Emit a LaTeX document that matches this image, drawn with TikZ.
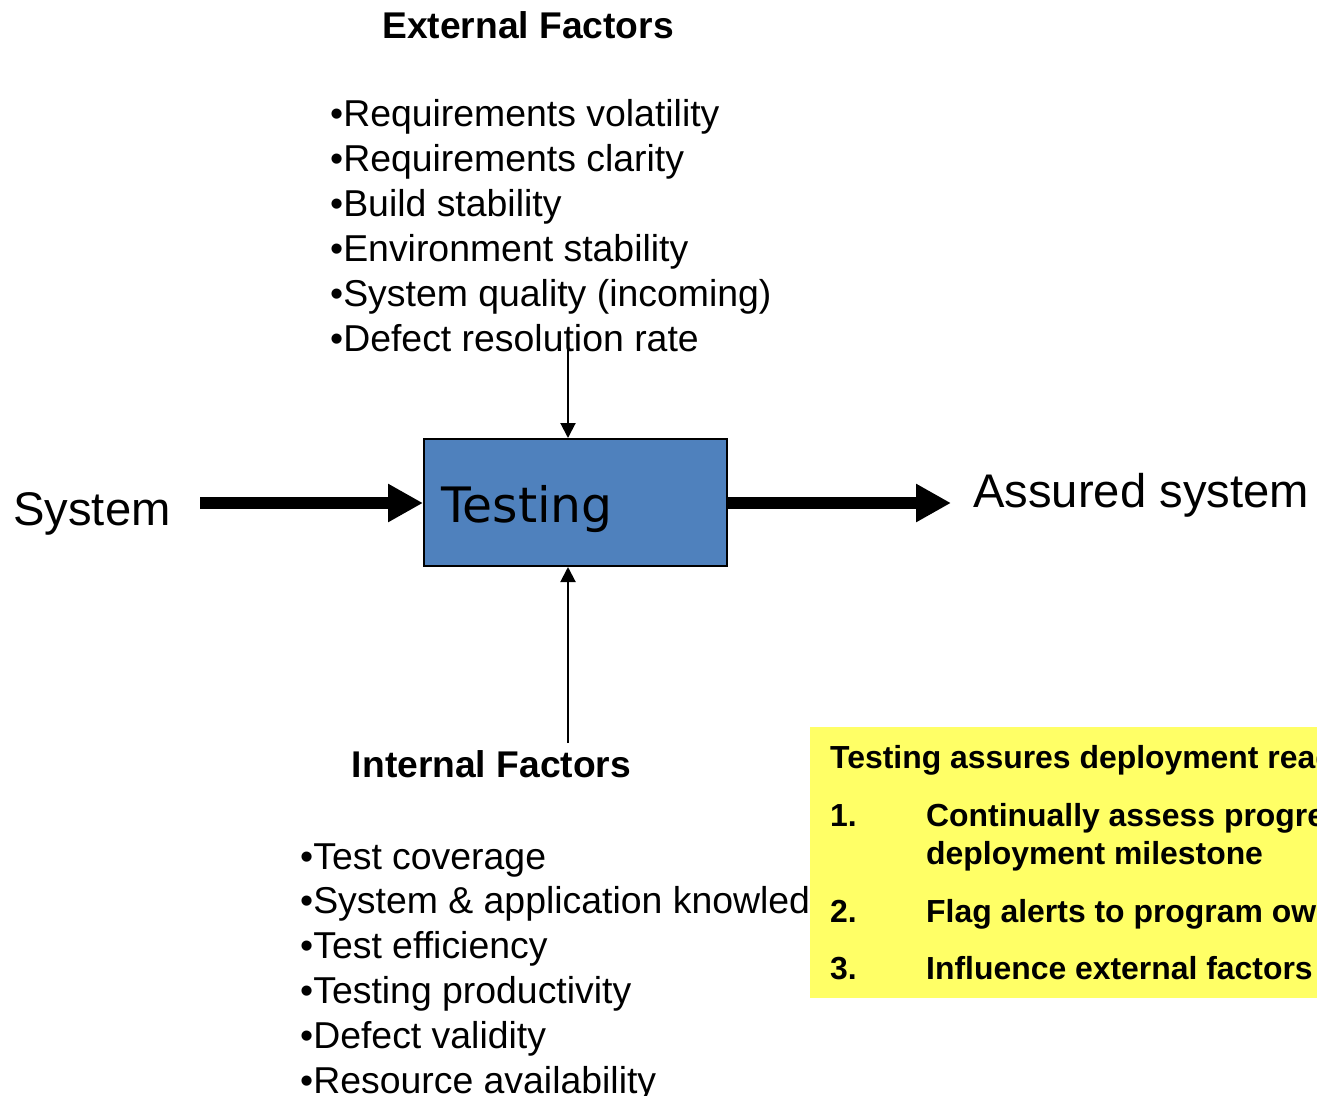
\documentclass[tikz,border=0pt]{standalone}
\usepackage{fontspec}
\setmainfont{Liberation Sans}
\newfontfamily\dejavu{DejaVu Sans}
\usetikzlibrary{arrows.meta}
\definecolor{boxblue}{HTML}{4F81BD}
\definecolor{noteyellow}{HTML}{FFFF66}
\tikzset{
  txt/.style={inner sep=0pt, anchor=base west, font=\fontsize{37.4}{45}\selectfont},
  head/.style={inner sep=0pt, anchor=base, font=\fontsize{37.2}{40}\selectfont\bfseries},
  ylw/.style={inner sep=0pt, anchor=base west, font=\fontsize{31.9}{38}\selectfont\bfseries},
  big/.style={inner sep=0pt, anchor=base west, font=\fontsize{47.2}{50}\selectfont},
  fatarrow/.style={line width=11.7pt, -{Triangle[length=35pt,width=36pt]}},
  thinarrow/.style={line width=2pt, -{Triangle[length=15pt,width=15pt]}},
}
\begin{document}
\begin{tikzpicture}[x=1pt,y=-1pt]
\useasboundingbox (0,0) rectangle (1317,1095);
\clip (0,0) rectangle (1317,1095);

% External factors
\node[head] (exthead) at (528,38) {External Factors};
\node[txt] (e1) at (330,126) {•Requirements volatility};
\node[txt] (e2) at (330,171) {•Requirements clarity};
\node[txt] (e3) at (330,216) {•Build stability};
\node[txt] (e4) at (330,261) {•Environment stability};
\node[txt] (e5) at (330,306) {•System quality (incoming)};
\node[txt] (e6) at (330,351) {•Defect resolution rate};

% Internal factors
\node[head] (inthead) at (491.5,777) {Internal Factors};
\node[txt] (i1) at (300,869) {•Test coverage};
\node[txt] (i2) at (300,913.8) {•System \& application knowledge};
\node[txt] (i3) at (300,958.6) {•Test efficiency};
\node[txt] (i4) at (300,1003.4) {•Testing productivity};
\node[txt] (i5) at (300,1048.2) {•Defect validity};
\node[txt] (i6) at (300,1093) {•Resource availability};

% Central box
\node[draw=black, line width=2pt, fill=boxblue, minimum width=303pt, minimum height=127pt, inner sep=0pt] (box) at (575.5,502.5) {};
\node[inner sep=0pt, anchor=base west, font=\dejavu\fontsize{48.8}{52}\selectfont] (tlabel) at (441,522) {Testing};

% Side labels
\node[big] (sys) at (13,525) {System};
\node[big] (asys) at (973,507) {Assured system};

% Connectors
\coordinate (sysend) at (200,503);
\coordinate (outend) at (951,503);
\coordinate (topstart) at (568,336);
\coordinate (botstart) at (568,743);
\draw[fatarrow] (sysend) -- (sysend -| box.west);
\draw[fatarrow] (outend -| box.east) -- (outend);
\draw[thinarrow] (topstart) -- (topstart |- box.north);
\draw[thinarrow] (botstart) -- (botstart |- box.south);

% Yellow note
\node[fill=noteyellow, inner sep=0pt, minimum width=600pt, minimum height=271pt, anchor=north west] (note) at (810,727) {};
\node[ylw] (n0) at (830,768) {Testing assures deployment readiness};
\node[ylw] (n1) at (830,826) {1.};
\node[ylw] (n1a) at (926,826) {Continually assess progress toward};
\node[ylw] (n1b) at (926,864) {deployment milestone};
\node[ylw] (n2) at (830,922) {2.};
\node[ylw] (n2a) at (926,922) {Flag alerts to program owners};
\node[ylw] (n3) at (830,979) {3.};
\node[ylw] (n3a) at (926,979) {Influence external factors};
\end{tikzpicture}
\end{document}
